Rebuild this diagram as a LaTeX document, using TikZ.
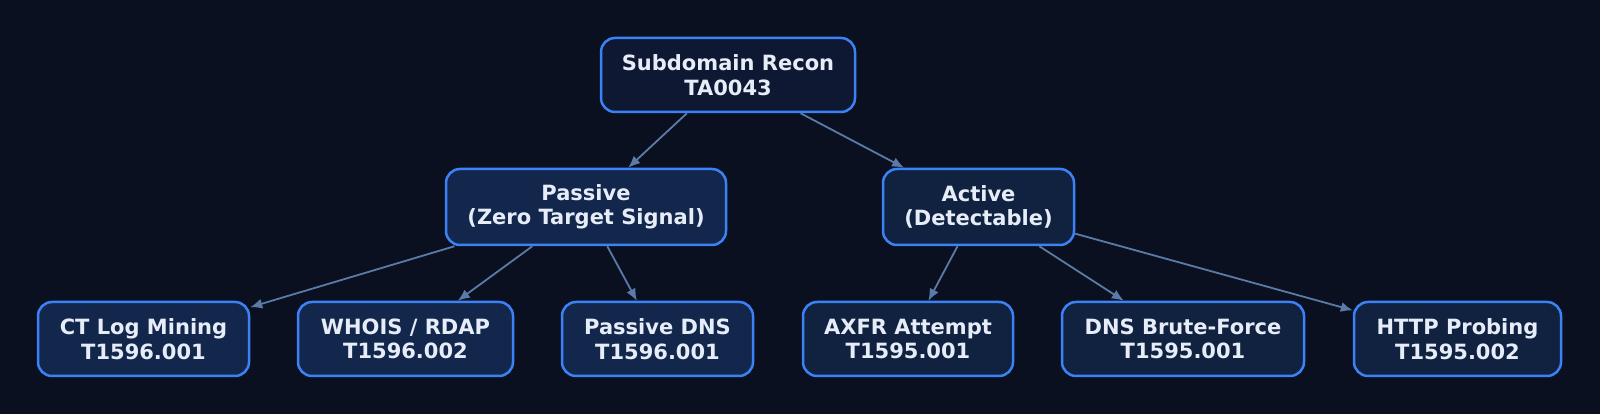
\documentclass[tikz,border=0pt]{standalone}
\usepackage{fontspec}
\setmainfont{DejaVu Sans}
\usetikzlibrary{arrows.meta}
\definecolor{bgc}{HTML}{0A101F}
\definecolor{rootfill}{HTML}{0E1832}
\definecolor{pasfill}{HTML}{13274D}
\definecolor{actfill}{HTML}{112240}
\definecolor{bordc}{HTML}{3B82F6}
\definecolor{edgec}{HTML}{5A7AA8}
\definecolor{txtc}{HTML}{E6EDF8}
\tikzset{
  box/.style={draw=bordc, line width=2.5pt, rounded corners=14pt, align=center,
    text=txtc, minimum height=74pt, inner sep=0pt,
    font=\fontsize{21}{24.5}\selectfont\bfseries},
  rootbox/.style={box, fill=rootfill},
  pasbox/.style={box, fill=pasfill},
  actbox/.style={box, fill=actfill},
  edge/.style={draw=edgec, line width=1.8pt, -{Latex[length=12pt,width=10pt]}}
}
\begin{document}
\begin{tikzpicture}[x=1pt,y=1pt]
\fill[bgc] (0,0) rectangle (1600,414);
\useasboundingbox (0,0) rectangle (1600,414);
\node[rootbox, minimum width=254pt] (root) at (728,339) {Subdomain Recon\\TA0043};
\node[pasbox, minimum width=280pt, minimum height=76pt] (pas) at (586,207) {Passive\\(Zero Target Signal)};
\node[actbox, minimum width=191pt, minimum height=76pt] (act) at (978.5,207) {Active\\(Detectable)};
\node[pasbox, minimum width=211pt] (ct) at (143.5,75) {CT Log Mining\\T1596.001};
\node[pasbox, minimum width=215pt] (whois) at (405.5,75) {WHOIS / RDAP\\T1596.002};
\node[pasbox, minimum width=191pt] (pdns) at (657.5,75) {Passive DNS\\T1596.001};
\node[actbox, minimum width=210pt] (axfr) at (908,75) {AXFR Attempt\\T1595.001};
\node[actbox, minimum width=242pt] (brute) at (1183,75) {DNS Brute-Force\\T1595.001};
\node[actbox, minimum width=207pt] (http) at (1457.5,75) {HTTP Probing\\T1595.002};
\draw[edge] (root) -- (pas);
\draw[edge] (root) -- (act);
\draw[edge] (pas) -- (ct);
\draw[edge] (pas) -- (whois);
\draw[edge] (pas) -- (pdns);
\draw[edge] (act) -- (axfr);
\draw[edge] (act) -- (brute);
\draw[edge] (act) -- (http);
\end{tikzpicture}
\end{document}
